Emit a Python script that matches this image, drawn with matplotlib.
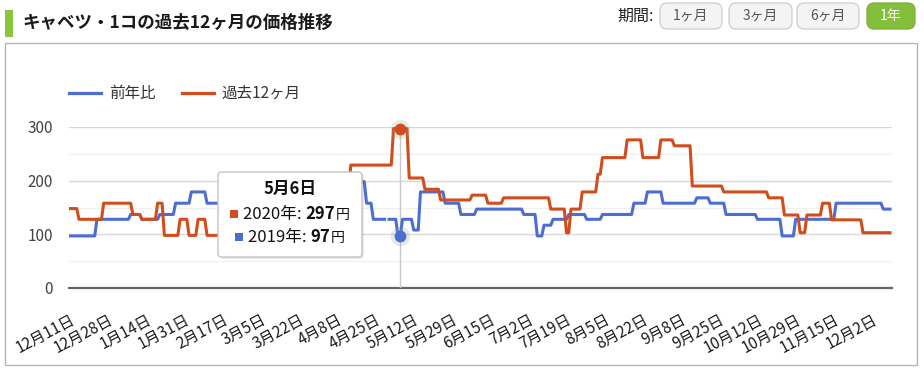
import numpy as np
import matplotlib
matplotlib.use("Agg")
import matplotlib.pyplot as plt
from matplotlib.patches import Rectangle, FancyBboxPatch
from matplotlib.lines import Line2D

plt.rcParams['font.family'] = ['Noto Sans CJK JP', 'DejaVu Sans']

# ---------------- data ----------------
title = "キャベツ・1コの過去12ヶ月の価格推移"
series_names = ["前年比", "過去12ヶ月"]
period_buttons = ["1ヶ月", "3ヶ月", "6ヶ月", "1年"]

n_days = 366  # daily points from 12月11日
tick_days = [0, 17, 34, 51, 68, 85, 102, 119, 136, 153, 170, 187, 204, 221,
             238, 255, 272, 289, 306, 323, 340, 357]
tick_labels = ["12月11日", "12月28日", "1月14日", "1月31日", "2月17日", "3月5日",
               "3月22日", "4月8日", "4月25日", "5月12日", "5月29日", "6月15日",
               "7月2日", "7月19日", "8月5日", "8月22日", "9月8日", "9月25日",
               "10月12日", "10月29日", "11月15日", "12月2日"]
y_ticks = [0, 100, 200, 300]

# 過去12ヶ月 (2020) : day where a price level starts, and the price
cur_start = [0, 4, 15, 28, 32, 39, 42, 49, 53, 57, 61, 80, 100, 110, 125, 144,
             151, 158, 165, 179, 186, 193, 214, 221, 223, 228, 235, 237, 248,
             255, 263, 269, 277, 291, 311, 318, 325, 328, 335, 339, 353]
cur_vals = [148, 128, 158, 137, 128, 158, 98, 128, 98, 128, 98, 128, 158, 180,
            229, 297, 205, 184, 164, 173, 158, 168, 147, 103, 147, 179, 212,
            243, 276, 243, 276, 265, 190, 179, 168, 136, 103, 136, 158, 127, 103]

# 前年比 (2019)
prev_start = [0, 12, 27, 32, 40, 47, 54, 61, 85, 118, 132, 135, 146, 148, 153,
              156, 167, 174, 181, 202, 208, 211, 215, 222, 230, 237, 251, 257,
              264, 279, 285, 292, 306, 317, 323, 341, 362]
prev_vals = [97, 128, 137, 128, 137, 158, 179, 158, 179, 198, 158, 128, 97, 128,
             108, 179, 158, 137, 147, 137, 97, 117, 128, 137, 128, 137, 158, 179,
             158, 168, 158, 137, 128, 97, 128, 158, 147]
prev_missing_days = [141]

hover_day = 147
hover_label = "5月6日"
hover_cur = 297
hover_prev = 97


def expand(starts, vals, n):
    arr = np.empty(n)
    ends = starts[1:] + [n]
    for s, e, v in zip(starts, ends, vals):
        arr[s:e] = v
    return arr


days = np.arange(n_days)
cur = expand(cur_start, cur_vals, n_days)
prev = expand(prev_start, prev_vals, n_days)
prev[prev_missing_days] = np.nan

# ---------------- figure ----------------
W, H = 924, 376
fig = plt.figure(figsize=(W / 100, H / 100), dpi=100)
fig.patch.set_facecolor("white")


def fx(x):
    return x / W


def fy(y):
    return 1 - y / H


BLUE = "#4d6dd3"
ORANGE = "#d14d1b"

# outer frame
fig.add_artist(Rectangle((fx(5), fy(365)), (917 - 5) / W, (365 - 43) / H,
                         transform=fig.transFigure, fill=False,
                         ec="#b5b5b5", lw=1))
# title
fig.add_artist(Rectangle((fx(5), fy(37)), 8 / W, 27 / H,
                         transform=fig.transFigure, fc="#8cc63f", ec="none"))
fig.text(fx(22), fy(23), title, fontsize=12.6, fontweight="bold",
         color="#1a1a1a", va="center", ha="left")

# period buttons
fig.text(fx(617), fy(16), "期間:", fontsize=11.5, color="#222222",
         va="center", ha="left")
btn_x = [(660, 722), (729, 792), (797, 859), (867, 915)]
for (x0, x1), lab in zip(btn_x, period_buttons):
    active = lab == "1年"
    fc = "#84bf3b" if active else "#f4f4f4"
    ec = "#79b032" if active else "#cccccc"
    fig.add_artist(FancyBboxPatch((fx(x0), fy(29)), (x1 - x0) / W, 26 / H,
                                  boxstyle="round,pad=0,rounding_size=0.008",
                                  transform=fig.transFigure, fc=fc, ec=ec,
                                  lw=0.9, mutation_aspect=W / H))
    fig.text(fx((x0 + x1) / 2), fy(16), lab, fontsize=10,
             color="white" if active else "#555555", va="center", ha="center")

# legend
fig.add_artist(Line2D([fx(69), fx(101)], [fy(93), fy(93)], color=BLUE, lw=2.3,
                      transform=fig.transFigure))
fig.text(fx(109), fy(93), series_names[0], fontsize=11.2, color="#333333",
         va="center", ha="left")
fig.add_artist(Line2D([fx(182), fx(214)], [fy(93), fy(93)], color=ORANGE,
                      lw=2.3, transform=fig.transFigure))
fig.text(fx(221), fy(93), series_names[1], fontsize=11.2, color="#333333",
         va="center", ha="left")

# axes
ax = fig.add_axes([fx(69), fy(288), (892 - 69) / W, (288 - 127) / H])
ax.set_xlim(-0.445, 365.89)
ax.set_ylim(0, 300)
for s in ax.spines.values():
    s.set_visible(False)
ax.set_facecolor("none")

for v in [50, 150, 250]:
    ax.axhline(v, color="#f0f0f0", lw=1, zorder=0)
for v in [100, 200, 300]:
    ax.axhline(v, color="#d9d9d9", lw=1, zorder=0)
ax.axhline(0, color="#666666", lw=1.6, zorder=1, clip_on=False)

ax.axvline(hover_day, color="#c8c8c8", lw=1, zorder=1)

ax.plot(days, prev, color=BLUE, lw=2.2, zorder=3, solid_joinstyle="round")
ax.plot(days, cur, color=ORANGE, lw=2.2, zorder=3, solid_joinstyle="round")

# hover markers
for val, col in [(hover_cur, ORANGE), (hover_prev, BLUE)]:
    ax.plot([hover_day], [val], "o", ms=14, color="#999999", alpha=0.22,
            mec="none", zorder=4, clip_on=False)
    ax.plot([hover_day], [val], "o", ms=8.5, color=col, mec="none", zorder=5,
            clip_on=False)

ax.set_yticks(y_ticks)
ax.set_yticklabels([str(v) for v in y_ticks])
ax.tick_params(axis="y", length=0, pad=11.5, labelsize=11, labelcolor="#444444")
ax.set_xticks(tick_days)
ax.set_xticklabels(tick_labels, rotation=28, ha="right", va="top",
                   rotation_mode="anchor")
ax.tick_params(axis="x", length=0, pad=16.5, labelsize=11, labelcolor="#1a1a1a")

# tooltip
tx0, tx1, ty0, ty1 = 218, 362, 172, 257
fig.add_artist(FancyBboxPatch((fx(tx0 + 2), fy(ty1 + 2)), (tx1 - tx0) / W,
                              (ty1 - ty0) / H,
                              boxstyle="round,pad=0,rounding_size=0.004",
                              transform=fig.transFigure, fc="#000000",
                              alpha=0.08, ec="none", zorder=9,
                              mutation_aspect=W / H))
fig.add_artist(FancyBboxPatch((fx(tx0), fy(ty1)), (tx1 - tx0) / W,
                              (ty1 - ty0) / H,
                              boxstyle="round,pad=0,rounding_size=0.004",
                              transform=fig.transFigure, fc="white",
                              ec="#c4c4c4", lw=1, zorder=10,
                              mutation_aspect=W / H))
fig.text(fx(290), fy(189), hover_label, fontsize=12, fontweight="bold",
         color="#111111", ha="center", va="center", zorder=11)

rows = [(219, 230, ORANGE, "2020年: ", str(hover_cur)),
        (242, 235, BLUE, "2019年: ", str(hover_prev))]
renderer = fig.canvas.get_renderer()
for base, sqx, col, lab, val in rows:
    fig.add_artist(Rectangle((fx(sqx), fy(base - 1.5)), 7.5 / W, 7.5 / H,
                             transform=fig.transFigure, fc=col, ec="none",
                             zorder=11))
    t1 = fig.text(fx(sqx + 13), fy(base), lab, fontsize=12, color="#111111",
                  ha="left", va="baseline", zorder=11)
    x1 = t1.get_window_extent(renderer).x1
    t2 = fig.text(x1 / W, fy(base), val, fontsize=12, fontweight="bold",
                  color="#111111", ha="left", va="baseline", zorder=11)
    x2 = t2.get_window_extent(renderer).x1
    fig.text(x2 / W + 1 / W, fy(base), "円", fontsize=10, color="#111111",
             ha="left", va="baseline", zorder=11)

fig.savefig("out.png", dpi=100, facecolor="white")
